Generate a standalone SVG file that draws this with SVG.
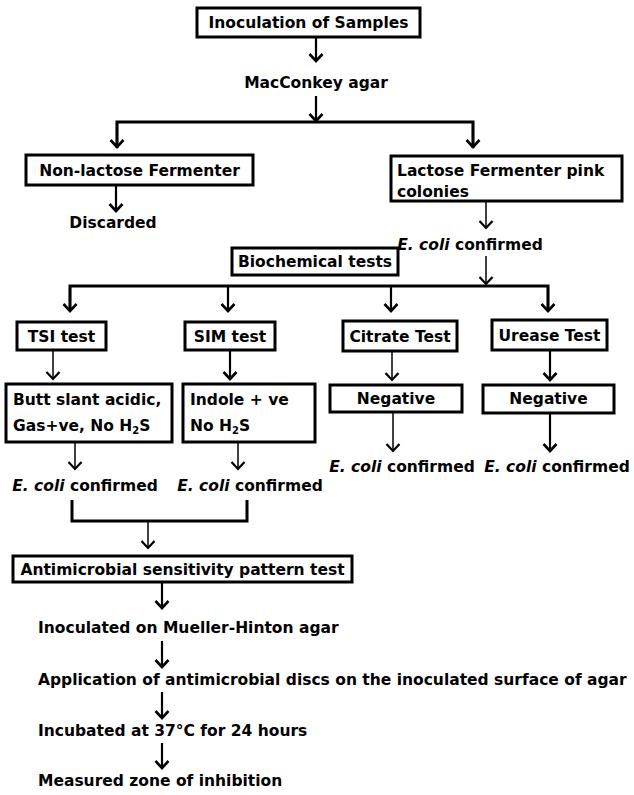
<svg xmlns="http://www.w3.org/2000/svg" width="634" height="795" viewBox="0 0 634 795">
<defs>
<style>
text{font-family:"DejaVu Sans","Liberation Sans",sans-serif;font-weight:bold;font-size:15.5px;fill:#000}
.c{text-anchor:middle}
.box{fill:#fff;stroke:#000;stroke-width:3}
.ln{fill:none;stroke:#000;stroke-width:3}
.ar{fill:none;stroke:#000;stroke-width:2.2;marker-end:url(#ah)}
.at{fill:none;stroke:#000;stroke-width:1.5;marker-end:url(#ah2)}
.i{font-style:italic}
</style>
<marker id="ah" markerUnits="userSpaceOnUse" markerWidth="20" markerHeight="20" viewBox="-10 -10 20 20" refX="0" refY="0" orient="auto" overflow="visible">
<path d="M-7,-6.5 L0,0 L-7,6.5" fill="none" stroke="#000" stroke-width="2.6"/>
</marker>
<marker id="ah2" markerUnits="userSpaceOnUse" markerWidth="20" markerHeight="20" viewBox="-10 -10 20 20" refX="0" refY="0" orient="auto" overflow="visible">
<path d="M-7,-6.5 L0,0 L-7,6.5" fill="none" stroke="#000" stroke-width="2.2"/>
</marker>
</defs>
<rect width="634" height="795" fill="#fff"/>
<g id="connectors">
<path class="ar" d="M316,37 V61"/>
<path class="ar" d="M316,96 V121"/>
<path class="ln" d="M117,148 V122 H473 V148"/>
<path class="ar" d="M117,122 V147"/>
<path class="ar" d="M473,122 V147"/>
<path class="ar" d="M116,185 V211"/>
<path class="at" d="M486,201 V228"/>
<path class="at" d="M486,256 V284"/>
<path class="ln" d="M70,311 V286 H548 V311"/>
<path class="ar" d="M70,286 V311"/>
<path class="ar" d="M228,286 V311"/>
<path class="ar" d="M391,286 V311"/>
<path class="ar" d="M548,286 V311"/>
<path class="at" d="M53,350 V379"/>
<path class="ar" d="M230,350 V379"/>
<path class="at" d="M392,352 V380"/>
<path class="ar" d="M550,350 V380"/>
<path class="at" d="M75,442 V469"/>
<path class="at" d="M238,442 V469"/>
<path class="at" d="M393,412 V451"/>
<path class="ar" d="M550,413 V451"/>
<path class="ln" d="M72,500 V521 H247 V500"/>
<path class="at" d="M148,521 V548"/>
<path class="ar" d="M162,582 V608"/>
<path class="ar" d="M162,641 V667"/>
<path class="ar" d="M162,692 V718"/>
<path class="ar" d="M162,743 V768"/>
</g>
<g id="inoculation">
<rect class="box" x="197" y="8" width="223" height="29"/>
<text class="c" x="308.5" y="28">Inoculation of Samples</text>
</g>
<g id="macconkey">
<text class="c" x="316" y="88">MacConkey agar</text>
</g>
<g id="non-lactose">
<rect class="box" x="26" y="155" width="227" height="30"/>
<text class="c" x="139.5" y="176">Non-lactose Fermenter</text>
</g>
<g id="discarded">
<text class="c" x="113" y="228">Discarded</text>
</g>
<g id="lactose">
<rect class="box" x="391" y="156" width="231" height="45"/>
<text x="397" y="176">Lactose Fermenter pink</text>
<text x="397" y="197">colonies</text>
</g>
<g id="ecoli-lactose">
<text class="c" x="470" y="250"><tspan class="i">E. coli</tspan> confirmed</text>
</g>
<g id="biochemical">
<rect class="box" x="232" y="248" width="166" height="27"/>
<text class="c" x="315" y="267">Biochemical tests</text>
</g>
<g id="tsi">
<rect class="box" x="17" y="322" width="89" height="28"/>
<text class="c" x="61.5" y="342">TSI test</text>
</g>
<g id="sim">
<rect class="box" x="185" y="322" width="90" height="28"/>
<text class="c" x="230" y="342">SIM test</text>
</g>
<g id="citrate">
<rect class="box" x="343" y="321" width="114" height="30"/>
<text class="c" x="400" y="342">Citrate Test</text>
</g>
<g id="urease">
<rect class="box" x="492" y="320" width="115" height="30"/>
<text class="c" x="549.5" y="341">Urease Test</text>
</g>
<g id="tsi-result">
<rect class="box" x="6" y="384" width="166" height="58"/>
<text x="13" y="405">Butt slant acidic,</text>
<text x="13" y="431">Gas+ve, No H<tspan font-size="10" dy="3">2</tspan><tspan dy="-3">S</tspan></text>
</g>
<g id="sim-result">
<rect class="box" x="183" y="384" width="132" height="58"/>
<text x="190" y="405">Indole + ve</text>
<text x="190" y="431">No H<tspan font-size="10" dy="3">2</tspan><tspan dy="-3">S</tspan></text>
</g>
<g id="citrate-result">
<rect class="box" x="330" y="385" width="132" height="27"/>
<text class="c" x="396" y="404">Negative</text>
</g>
<g id="urease-result">
<rect class="box" x="483" y="385" width="131" height="28"/>
<text class="c" x="548.5" y="404">Negative</text>
</g>
<g id="ecoli-tsi">
<text class="c" x="85" y="491"><tspan class="i">E. coli</tspan> confirmed</text>
</g>
<g id="ecoli-sim">
<text class="c" x="250" y="491"><tspan class="i">E. coli</tspan> confirmed</text>
</g>
<g id="ecoli-citrate">
<text class="c" x="402" y="472"><tspan class="i">E. coli</tspan> confirmed</text>
</g>
<g id="ecoli-urease">
<text class="c" x="557" y="472"><tspan class="i">E. coli</tspan> confirmed</text>
</g>
<g id="antimicrobial">
<rect class="box" x="13" y="556" width="339" height="26"/>
<text class="c" x="182.5" y="575">Antimicrobial sensitivity pattern test</text>
</g>
<g id="mueller">
<text x="38" y="633">Inoculated on Mueller-Hinton agar</text>
</g>
<g id="application">
<text x="38" y="685">Application of antimicrobial discs on the inoculated surface of agar</text>
</g>
<g id="incubated">
<text x="38" y="736">Incubated at 37°C for 24 hours</text>
</g>
<g id="measured">
<text x="38" y="786">Measured zone of inhibition</text>
</g>
</svg>
